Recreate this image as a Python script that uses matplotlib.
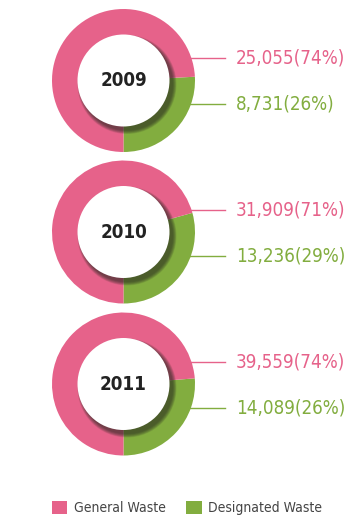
import matplotlib
matplotlib.use("Agg")
import matplotlib.pyplot as plt
from matplotlib.patches import Circle, Patch

# waste generated per year (tons) and share of total
years = ["2009", "2010", "2011"]
general = [25055, 31909, 39559]
designated = [8731, 13236, 14089]
general_pct = [74, 71, 74]
designated_pct = [26, 29, 26]

PINK = "#e6628a"
GREEN = "#82ad3f"

W, H = 350, 520
fig = plt.figure(figsize=(W / 100, H / 100), dpi=100)
ax = fig.add_axes([0, 0, 1, 1])

cx = 123.5
centers_y = [H - 80.5, H - 232, H - 384]
R, R_IN = 71.5, 46

for i, year in enumerate(years):
    cy = centers_y[i]
    # leader lines sit behind the ring
    ax.plot([cx, 225], [cy + 22.5, cy + 22.5], color=PINK, lw=1.0, zorder=1)
    ax.plot([cx, 225], [cy - 23.5, cy - 23.5], color=GREEN, lw=1.0, zorder=1)

    ax.pie([designated[i], general[i]], colors=[GREEN, PINK], startangle=270,
           counterclock=True, center=(cx, cy), radius=R, frame=True,
           wedgeprops=dict(width=R - R_IN + 6, edgecolor="none", linewidth=0, zorder=2))

    # soft drop shadow under the centre disc, offset down-right
    for k in range(8):
        ax.add_patch(Circle((cx + 3.5, cy - 4), R_IN + 3.5 - k * 0.5,
                            facecolor="#2b2b22", edgecolor="none", alpha=0.11, zorder=3))
    ax.add_patch(Circle((cx, cy), R_IN, facecolor="white", edgecolor="none", zorder=4))
    ax.text(cx, cy, year, ha="center", va="center", fontsize=13.5, fontweight="bold",
            fontstretch="condensed", color="#222222", zorder=5)

    ax.text(236, cy + 22.5, f"{general[i]:,}({general_pct[i]}%)", ha="left", va="center",
            fontsize=13.5, fontstretch="condensed", color=PINK)
    ax.text(236, cy - 23.5, f"{designated[i]:,}({designated_pct[i]}%)", ha="left", va="center",
            fontsize=13.5, fontstretch="condensed", color=GREEN)

ax.set_xlim(0, W)
ax.set_ylim(0, H)
ax.set_aspect("equal")
ax.axis("off")

handles = [Patch(facecolor=PINK, edgecolor="none", label="General Waste"),
           Patch(facecolor=GREEN, edgecolor="none", label="Designated Waste")]
ax.legend(handles=handles, loc="center", bbox_to_anchor=(187 / W, 12 / H), ncol=2,
          frameon=False, handlelength=1.1, handleheight=1.1,
          handletextpad=0.45, columnspacing=1.5, labelcolor="#444444",
          prop=dict(size=10, stretch="condensed"))

fig.savefig("out.png", dpi=100, facecolor="white")
